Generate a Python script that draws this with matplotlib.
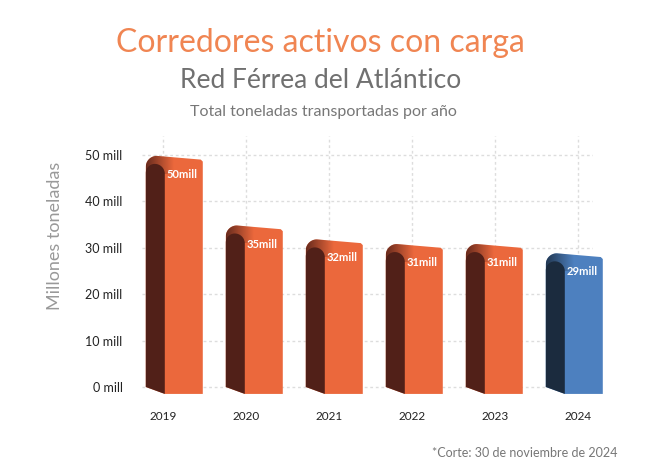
import numpy as np
import matplotlib
matplotlib.use('Agg')
import matplotlib.pyplot as plt
from matplotlib.patches import Polygon
from matplotlib.colors import to_rgb

plt.rcParams['font.family'] = ['Lato', 'DejaVu Sans']

# data
years = ['2019', '2020', '2021', '2022', '2023', '2024']
tons = [50, 35, 32, 31, 31, 29]
bar_labels = ['50mill', '35mill', '32mill', '31mill', '31mill', '29mill']
yticks = [0, 10, 20, 30, 40, 50]
ytick_labels = ['0 mill', '10 mill', '20 mill', '30 mill', '40 mill', '50 mill']

front_colors = ['#EB683C'] * 5 + ['#4D80BF']
side_colors = ['#512018'] * 5 + ['#1B2B3E']

fig = plt.figure(figsize=(6.5, 4.7), dpi=100)
ax = fig.add_axes([0.2185, 0.1668, 0.694, 0.543])

# px -> data units
px_x = 1 / 83.1
px_y = 1 / 4.64


def arc(cx, cy, rx, ry, a0, a1, n=14):
    t = np.radians(np.linspace(a0, a1, n))
    return list(zip(cx + rx * np.cos(t), cy + ry * np.sin(t)))


for i, v in enumerate(tons):
    # bars drawn with slight perspective squeeze
    xf = i * 0.963 + 2 * px_x   # front face left
    xr = xf + 38 * px_x          # front face right
    xl = xf - 19 * px_x          # side face left
    top_l = v - 0.2
    top_r = v - 1.0
    r = 11
    # whole silhouette in front colour (the top cap)
    pts = [(xl, 0), (xl, top_l - r * px_y)]
    pts += arc(xl + r * px_x, top_l - r * px_y, r * px_x, r * px_y, 180, 90)
    pts += [(xr - 2 * px_x, top_r), (xr, top_r - 2 * px_y), (xr, -1.5), (xf, -1.5)]
    sil = Polygon(pts, closed=True, fc=front_colors[i], ec='none', zorder=3, clip_on=False)
    ax.add_patch(sil)

    # shading of the cap: dark on the left fading to the front colour
    sc = np.array(to_rgb(side_colors[i]))
    grad = np.zeros((2, 64, 4))
    grad[..., :3] = sc
    grad[..., 3] = np.clip(1 - np.linspace(0, 1, 64) * 1.1, 0, 1)[None, :] * 0.85
    im = ax.imshow(grad, extent=[xl, xf + 12 * px_x, top_r - 14 * px_y, top_l + 1],
                   aspect='auto', zorder=3.5, interpolation='bilinear')
    im.set_clip_path(sil)
    im.set_clip_box(None)

    # dark side face below the cap
    band = top_l - 8 * px_y
    r1, r2 = 9, 10
    spts = [(xl, 0), (xl, band - r1 * px_y)]
    spts += arc(xl + r1 * px_x, band - r1 * px_y, r1 * px_x, r1 * px_y, 180, 90)
    spts += arc(xf - r2 * px_x, band - r2 * px_y, r2 * px_x, r2 * px_y, 90, 0)
    spts += [(xf, -1.5)]
    ax.add_patch(Polygon(spts, closed=True, fc=side_colors[i], ec='none', zorder=4, clip_on=False))

    ax.text(xf + 17 * px_x, v - 4.2, bar_labels[i], color='white', fontsize=8,
            fontweight='bold', ha='center', va='center', zorder=5)

ax.set_xlim(-0.25, 5.18)
ax.set_ylim(-1, 54)
ax.set_xticks(range(len(years)))
ax.set_xticklabels(years, fontsize=8.5, color='#222222')
ax.set_yticks(yticks)
ax.set_yticklabels(ytick_labels, fontsize=9, color='#222222')
ax.tick_params(axis='x', length=0, pad=14)
ax.tick_params(axis='y', length=0, pad=14)
ax.grid(True, color='#DDDDDD', linestyle=(0, (2, 2)), linewidth=1)
ax.set_axisbelow(True)
for s in ax.spines.values():
    s.set_visible(False)

fig.text(0.493, 1 - 43 / 470, 'Corredores activos con carga', color='#F08552', fontsize=23,
         ha='center', va='center')
fig.text(0.493, 1 - 80 / 470, 'Red Férrea del Atlántico', color='#707070', fontsize=19,
         ha='center', va='center')
fig.text(0.497, 1 - 112 / 470, 'Total toneladas transportadas por año', color='#777777', fontsize=11.5,
         ha='center', va='center')
fig.text(55 / 650, 1 - 236 / 470, 'Millones toneladas', color='#999999', fontsize=13,
         rotation=90, ha='center', va='center')
fig.text(617 / 650, 1 - 453 / 470, '*Corte: 30 de noviembre de 2024', color='#777777', fontsize=9,
         ha='right', va='center')

fig.savefig('out.png', dpi=100)
